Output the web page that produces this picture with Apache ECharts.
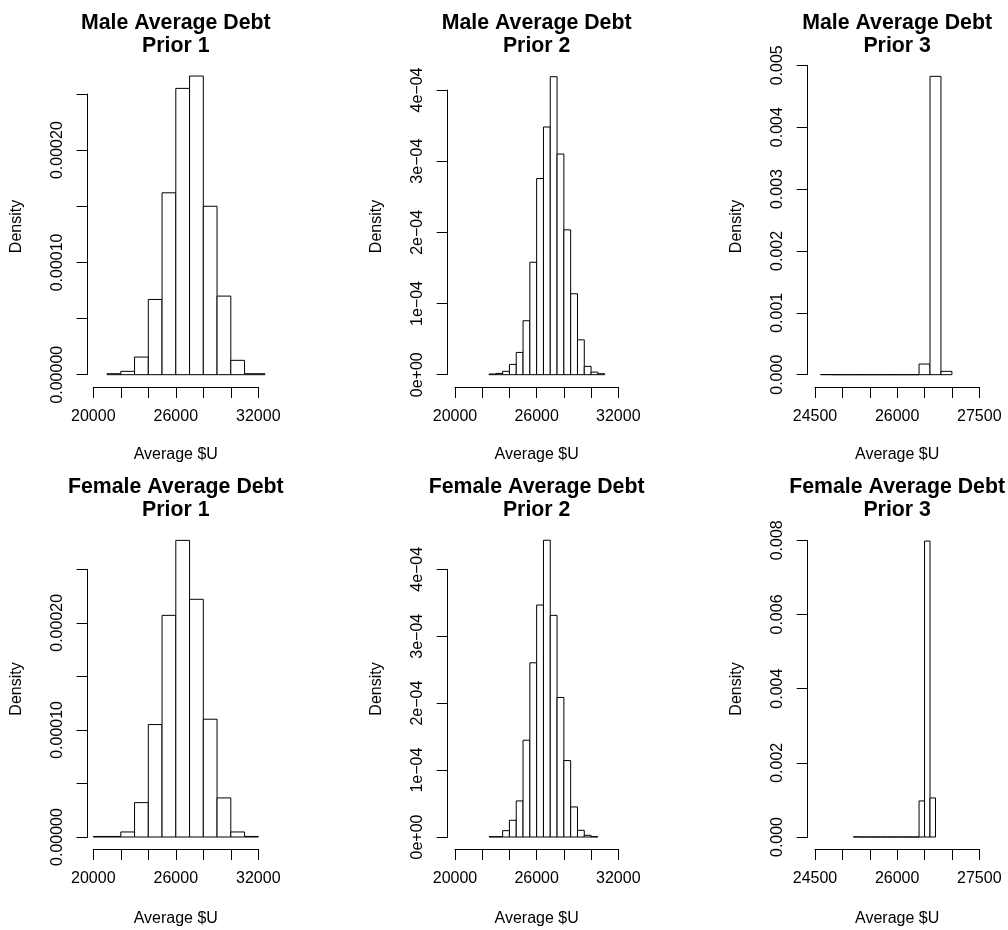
<!DOCTYPE html>
<html>
<head>
<meta charset="utf-8">
<title>Average Debt histograms</title>
<script src="https://cdn.jsdelivr.net/npm/echarts@6.0.0/dist/echarts.min.js"></script>
<style>
  html, body { margin: 0; padding: 0; background: #fff; }
  #chart { width: 1008px; height: 930px; }
</style>
</head>
<body>
<div id="chart"></div>
<script>
// bin edges and densities
const maleP1Breaks = [21000, 22000, 23000, 24000, 25000, 26000, 27000, 28000, 29000, 30000, 31000, 32000, 33000];
const maleP1Density = [0.0000009, 0.000003, 0.0000157, 0.000067, 0.000162, 0.000255, 0.000266, 0.00015, 0.00007, 0.0000128, 0.0000009, 0.0000009];

const maleP2Breaks = [22500, 23000, 23500, 24000, 24500, 25000, 25500, 26000, 26500, 27000, 27500, 28000, 28500, 29000, 29500, 30000, 30500, 31000];
const maleP2Density = [0.000001, 0.0000018, 0.0000047, 0.0000145, 0.0000313, 0.0000758, 0.000158, 0.0002756, 0.000348, 0.0004187, 0.00031, 0.0002035, 0.0001137, 0.000049, 0.0000117, 0.0000037, 0.0000014];

const maleP3Breaks = [24600, 24800, 25000, 25200, 25400, 25600, 25800, 26000, 26200, 26400, 26600, 26800, 27000];
const maleP3Density = [0.0000025, 0, 0, 0, 0, 0, 0, 0, 0, 0.000172, 0.004822, 0.000054];

const femaleP1Breaks = [20000, 21000, 22000, 23000, 24000, 25000, 26000, 27000, 28000, 29000, 30000, 31000, 32000];
const femaleP1Density = [0.0000005, 0.0000005, 0.0000047, 0.0000321, 0.000105, 0.000207, 0.000277, 0.000222, 0.00011, 0.0000365, 0.0000047, 0.0000005];

const femaleP2Breaks = [22500, 23000, 23500, 24000, 24500, 25000, 25500, 26000, 26500, 27000, 27500, 28000, 28500, 29000, 29500, 30000, 30500];
const femaleP2Density = [0.0000005, 0.0000005, 0.0000095, 0.000025, 0.0000539, 0.0001446, 0.0002603, 0.0003466, 0.0004434, 0.0003312, 0.0002085, 0.0001142, 0.0000449, 0.00001, 0.0000025, 0.0000005];

const femaleP3Breaks = [25200, 25300, 25400, 25500, 25600, 25700, 25800, 25900, 26000, 26100, 26200, 26300, 26400, 26500, 26600, 26700];
const femaleP3Density = [0.000005, 0, 0, 0, 0, 0, 0, 0, 0, 0, 0, 0, 0.000972, 0.00798, 0.001053];

// axis ticks and labels
const debtTicks = [20000, 22000, 24000, 26000, 28000, 30000, 32000];
const debtTickLabels = [20000, 26000, 32000];
const narrowTicks = [24500, 25000, 25500, 26000, 26500, 27000, 27500];
const narrowTickLabels = [24500, 26000, 27500];

const prior1Ticks = [0, 0.00005, 0.0001, 0.00015, 0.0002, 0.00025];
const prior1Labels = ['0.00000', '', '0.00010', '', '0.00020', ''];
const prior2Ticks = [0, 0.0001, 0.0002, 0.0003, 0.0004];
const prior2Labels = ['0e+00', '1e\u221204', '2e\u221204', '3e\u221204', '4e\u221204'];
const maleP3Ticks = [0, 0.001, 0.002, 0.003, 0.004, 0.005];
const maleP3Labels = ['0.000', '0.001', '0.002', '0.003', '0.004', '0.005'];
const femaleP3Ticks = [0, 0.002, 0.004, 0.006, 0.008];
const femaleP3Labels = ['0.000', '0.002', '0.004', '0.006', '0.008'];

const FONT = '"Liberation Sans", Arial, Helvetica, sans-serif';

// nameMid: where R centres "Density" (middle of the whole plot region, not the tick range)
const panels = [
  { title: 'Male Average Debt\nPrior 1', breaks: maleP1Breaks, density: maleP1Density,
    xTicks: debtTicks, xLabels: debtTickLabels, yTicks: prior1Ticks, yLabels: prior1Labels,
    left: 93.3, top: 94, width: 165, height: 280.7, yOff: 5.7, xOff: 12.3, titleTop: 11.5, nameGap: 60, nameMid: 226.5 },
  { title: 'Male Average Debt\nPrior 2', breaks: maleP2Breaks, density: maleP2Density,
    xTicks: debtTicks, xLabels: debtTickLabels, yTicks: prior2Ticks, yLabels: prior2Labels,
    left: 455, top: 90, width: 163.3, height: 284.7, yOff: 7.3, xOff: 12.3, titleTop: 11.5, nameGap: 60, nameMid: 226.5 },
  { title: 'Male Average Debt\nPrior 3', breaks: maleP3Breaks, density: maleP3Density,
    xTicks: narrowTicks, xLabels: narrowTickLabels, yTicks: maleP3Ticks, yLabels: maleP3Labels,
    left: 815, top: 65.3, width: 164.3, height: 309.4, yOff: 7.3, xOff: 12.3, titleTop: 11.5, nameGap: 60, nameMid: 226.5 },
  { title: 'Female Average Debt\nPrior 1', breaks: femaleP1Breaks, density: femaleP1Density,
    xTicks: debtTicks, xLabels: debtTickLabels, yTicks: prior1Ticks, yLabels: prior1Labels,
    left: 93.3, top: 569.3, width: 165, height: 267.7, yOff: 5.7, xOff: 12, titleTop: 475, nameGap: 62, nameMid: 689 },
  { title: 'Female Average Debt\nPrior 2', breaks: femaleP2Breaks, density: femaleP2Density,
    xTicks: debtTicks, xLabels: debtTickLabels, yTicks: prior2Ticks, yLabels: prior2Labels,
    left: 455, top: 569.3, width: 163.3, height: 267.7, yOff: 7.3, xOff: 12, titleTop: 475, nameGap: 62, nameMid: 689 },
  { title: 'Female Average Debt\nPrior 3', breaks: femaleP3Breaks, density: femaleP3Density,
    xTicks: narrowTicks, xLabels: narrowTickLabels, yTicks: femaleP3Ticks, yLabels: femaleP3Labels,
    left: 815, top: 540.3, width: 164.3, height: 296.7, yOff: 7.3, xOff: 12, titleTop: 475, nameGap: 62, nameMid: 689 }
];

const axisLine = { onZero: false, lineStyle: { color: '#000', width: 1 } };
const axisTick = { length: 11, lineStyle: { color: '#000', width: 1 } };
const labelStyle = { color: '#000', fontSize: 16, fontFamily: FONT };

// R clips the bars at the plot region (4% past the axis limits)
function histRender(xClip) {
  return function (params, api) {
    const start = api.value(0);
    const end = Math.min(api.value(1), xClip);
    const topLeft = api.coord([start, api.value(2)]);
    const bottomRight = api.coord([end, 0]);
    return {
      type: 'rect',
      shape: {
        x: topLeft[0],
        y: topLeft[1],
        width: bottomRight[0] - topLeft[0],
        height: bottomRight[1] - topLeft[1]
      },
      style: { fill: '#fff', stroke: '#000', lineWidth: 1 }
    };
  };
}

const option = {
  animation: false,
  backgroundColor: '#fff',
  title: panels.map((p) => ({
    text: p.title,
    left: p.left + p.width / 2,
    top: p.titleTop,
    textAlign: 'center',
    padding: 0,
    textStyle: { fontSize: 21.3, fontWeight: 'bold', color: '#000', fontFamily: FONT, lineHeight: 23.4 }
  })),
  grid: panels.map((p) => ({
    left: p.left, top: p.top, width: p.width, height: p.height,
    containLabel: false, outerBoundsMode: 'none'
  })),
  xAxis: panels.map((p, i) => {
    const first = p.xTicks[0];
    const last = p.xTicks[p.xTicks.length - 1];
    return {
      gridIndex: i,
      type: 'value',
      min: first,
      max: last,
      interval: p.xTicks[1] - p.xTicks[0],
      offset: p.xOff,
      axisLine: axisLine,
      axisTick: axisTick,
      splitLine: { show: false },
      axisLabel: Object.assign({}, labelStyle, {
        margin: 22,
        formatter: (v) => (p.xLabels.indexOf(v) >= 0 ? String(v) : '')
      }),
      name: 'Average $U',
      nameLocation: 'middle',
      nameGap: p.nameGap,
      nameTextStyle: labelStyle
    };
  }),
  yAxis: panels.map((p, i) => {
    // shift the rotated name along the axis: extra left padding moves it up
    const shift = (p.top + p.height / 2) - p.nameMid;
    return {
      gridIndex: i,
      type: 'value',
      min: 0,
      max: p.yTicks[p.yTicks.length - 1],
      interval: p.yTicks[1],
      offset: p.yOff,
      axisLine: axisLine,
      axisTick: axisTick,
      splitLine: { show: false },
      axisLabel: Object.assign({}, labelStyle, {
        margin: 22,
        rotate: 90,
        formatter: (v) => {
          for (let k = 0; k < p.yTicks.length; k++) {
            if (Math.abs(v - p.yTicks[k]) < 1e-12) return p.yLabels[k];
          }
          return '';
        }
      }),
      name: 'Density',
      nameLocation: 'middle',
      nameRotate: 90,
      nameGap: 63,
      nameTextStyle: Object.assign({}, labelStyle, {
        padding: shift >= 0 ? [0, 0, 0, 2 * shift] : [0, -2 * shift, 0, 0]
      })
    };
  }),
  series: panels.map((p, i) => {
    const first = p.xTicks[0];
    const last = p.xTicks[p.xTicks.length - 1];
    const bins = p.density.map((d, k) => [p.breaks[k], p.breaks[k + 1], d]);
    return {
      type: 'custom',
      coordinateSystem: 'cartesian2d',
      xAxisIndex: i,
      yAxisIndex: i,
      clip: false,
      silent: true,
      encode: { x: [0, 1], y: 2 },
      renderItem: histRender(last + 0.04 * (last - first)),
      data: bins
    };
  })
};

const chart = echarts.init(document.getElementById('chart'), null, { renderer: 'canvas' });
chart.setOption(option);
</script>
</body>
</html>
